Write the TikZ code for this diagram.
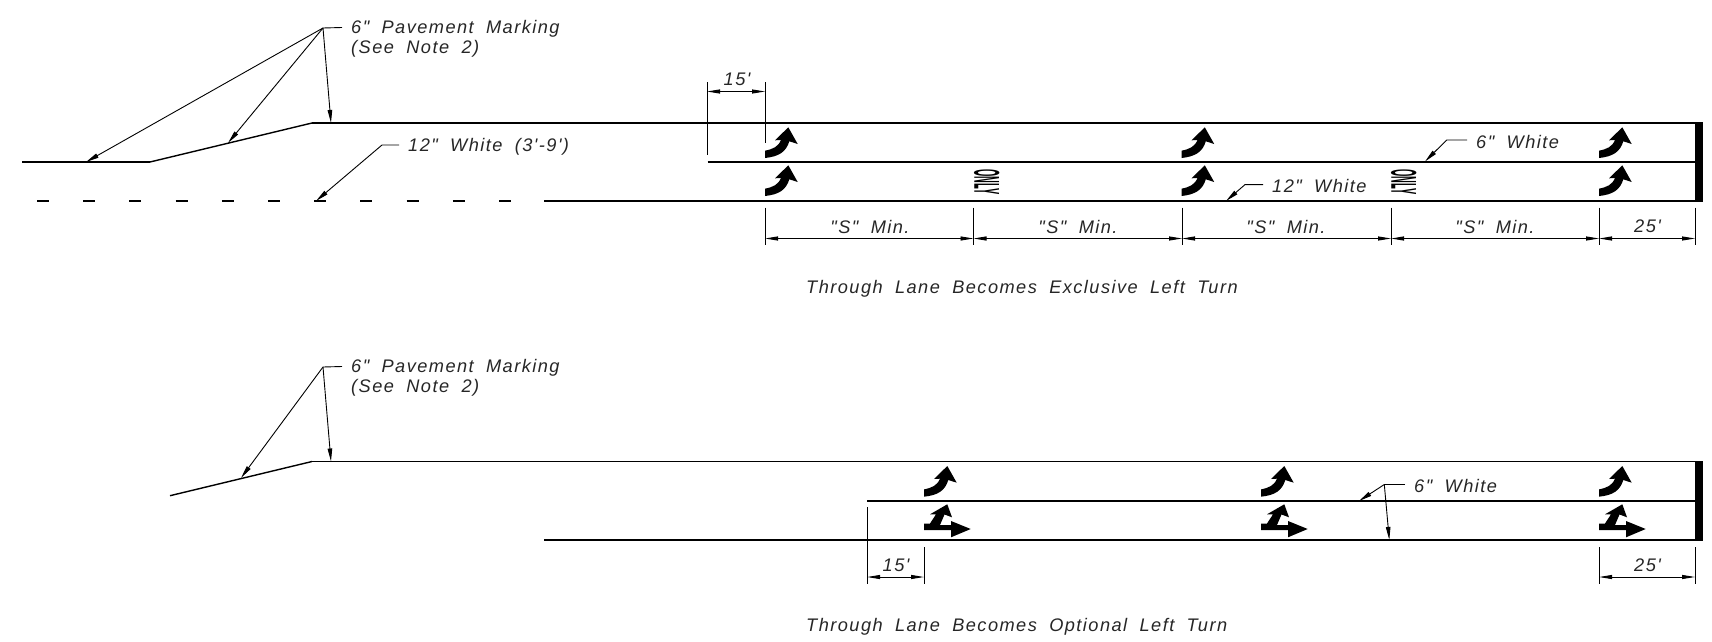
\documentclass[tikz,border=0pt]{standalone}
\usepackage{fontspec}
\usetikzlibrary{arrows.meta}
\newfontfamily\lab[LetterSpace=8,WordSpace=1.9]{Liberation Sans}
\newfontfamily\onlyfont{Liberation Sans}
\tikzset{
 x=1pt,y=-1pt,
 road/.style={line width=1.7pt,black},
 slope/.style={line width=1.4pt,black},
 thin line/.style={line width=0.9pt,black},
 leader/.style={thin line,-{Triangle[length=13pt,width=4.5pt]}},
 dimen/.style={thin line,{Triangle[length=13pt,width=4pt]}-{Triangle[length=13pt,width=4pt]}},
 txt/.style={font=\lab\itshape\fontsize{18.2}{18.2}\selectfont,text=black!85,inner sep=0pt,anchor=west,yshift=-1.5pt},
 ctxt/.style={txt,anchor=center},
 stublab/.style={txt,inner xsep=9pt},
 onlytxt/.style={inner sep=0pt,rotate=-90},
 pics/turn/.style={code={
   \fill (0,0) -- (0,-7.3) .. controls (8,-9) and (13,-11) .. (16,-18) -- (10,-17.7) -- (23.3,-30.7) -- (32.7,-14) -- (24.3,-16.7)
     .. controls (21,-6) and (14,-1.5) .. (0,0) -- cycle;}},
 pics/turnthru/.style={code={
   \fill (0,0) -- (27,0) -- (27,7.3) -- (46.7,-1) -- (27,-9) -- (27,-5) -- (16,-5) -- (20.5,-15.5) -- (28,-12.7) -- (23.3,-25.7) -- (6,-15.7) -- (12,-15.7) -- (6,-6.5) -- (0,-6.5) -- cycle;}},
}
\newcommand{\onlymark}{{\onlyfont\bfseries\fontsize{36}{36}\selectfont\scalebox{.26}[1]{ONLY}}}
\begin{document}
\begin{tikzpicture}
\useasboundingbox (0,0) rectangle (1712,642);
% ---------- top diagram
\coordinate (t0) at (22,162); \coordinate (t1) at (150,162); \coordinate (t2) at (312,123); \coordinate (tE) at (1695,123);
\coordinate (tm0) at (707.5,162); \coordinate (tmE) at (1695,162);
\coordinate (tb0) at (544,201); \coordinate (tbE) at (1695,201);
\draw[road] (t0) -- (t1);
\draw[slope] (t1) -- (t2);
\draw[road] (t2) -- (tE);
\draw[road] (tm0) -- (tmE);
\draw[road] (tb0) -- (tbE);
\foreach \i in {0,...,10} \draw[road] ({37+46.2*\i},201) -- ({49+46.2*\i},201);
\fill (1695,122) rectangle (1702.7,202);
\foreach \x/\n in {765/a,1181.5/b,1599/c}{
  \pic at (\x,158) {turn};
  \pic at (\x,196) {turn};
}
\node[onlytxt] (only1) at (986.7,182) {\onlymark};
\node[onlytxt] (only2) at (1403.7,182) {\onlymark};
% leaders
\coordinate (hub1) at (323,28);
\node[stublab] (pm1) at (342,27.5) {6" Pavement Marking};
\node[txt] (pm1b) at (351,47.5) {(See Note 2)};
\draw[thin line] (hub1) -- ([yshift=1.5pt]pm1.west);
\coordinate (p1) at (86,162); \coordinate (p2) at (228,143); \coordinate (p3) at (331,123);
\draw[leader] (hub1) -- (p1);
\draw[leader] (hub1) -- (p2);
\draw[leader] (hub1) -- (p3);
\node[stublab] (w12d) at (399,145) {12" White (3'-9')};
\coordinate (w12de) at (382,145); \coordinate (w12da) at (316,201);
\draw[leader] ([yshift=1.5pt]w12d.west) -- (w12de) -- (w12da);
\node[stublab] (w12) at (1263,184.6) {12" White};
\coordinate (w12e) at (1245,184.6); \coordinate (w12a) at (1226,201);
\draw[leader] ([yshift=1.5pt]w12.west) -- (w12e) -- (w12a);
\node[stublab] (w6) at (1467,140) {6" White};
\coordinate (w6e) at (1446.7,140); \coordinate (w6a) at (1425,161.5);
\draw[leader] ([yshift=1.5pt]w6.west) -- (w6e) -- (w6a);
% dimensions
\foreach \n/\x in {A/765,B/973.5,C/1182,D/1391,E/1599,F/1695}{
  \coordinate (\n1) at (\x,207.5); \coordinate (\n2) at (\x,245);
  \coordinate (\n) at (\x,238.5);
  \draw[thin line] (\n1) -- (\n2);
}
\foreach \a/\b in {A/B,B/C,C/D,D/E,E/F} \draw[dimen] (\a) -- (\b);
\node[ctxt] (s1) at (870,225) {"S" Min.};
\node[ctxt] (s2) at (1078,225) {"S" Min.};
\node[ctxt] (s3) at (1286,225) {"S" Min.};
\node[ctxt] (s4) at (1495,225) {"S" Min.};
\node[ctxt] (d25a) at (1647.5,225) {25'};
\coordinate (g1) at (707,82); \coordinate (g2) at (707,155);
\coordinate (g3) at (765,82); \coordinate (g4) at (765,143);
\draw[thin line] (g1) -- (g2);
\draw[thin line] (g3) -- (g4);
\coordinate (g5) at (707,91.5); \coordinate (g6) at (765,91.5);
\draw[dimen] (g5) -- (g6);
\node[ctxt] (d15a) at (737,77.5) {15'};
\node[txt] (title1) at (806,287) {Through Lane Becomes Exclusive Left Turn};
% ---------- bottom diagram
\coordinate (u0) at (170,495.7); \coordinate (u1) at (312,461.5); \coordinate (uE) at (1695,461.5);
\coordinate (um0) at (867,501); \coordinate (umE) at (1695,501);
\coordinate (ub0) at (544,540); \coordinate (ubE) at (1695,540);
\draw[slope] (u0) -- (u1);
\draw[road] (u1) -- (uE);
\draw[road] (um0) -- (umE);
\draw[road] (ub0) -- (ubE);
\fill (1695,460.5) rectangle (1702.7,540.8);
\foreach \x in {924,1261,1599}{
  \pic at (\x,496.7) {turn};
  \pic at (\x,530) {turnthru};
}
\coordinate (hub2) at (323,367);
\node[stublab] (pm2) at (342,366.5) {6" Pavement Marking};
\node[txt] (pm2b) at (351,386.5) {(See Note 2)};
\draw[thin line] (hub2) -- ([yshift=1.5pt]pm2.west);
\coordinate (q1) at (241,478); \coordinate (q2) at (331,461.5);
\draw[leader] (hub2) -- (q1);
\draw[leader] (hub2) -- (q2);
\node[stublab] (w6b) at (1405,484.5) {6" White};
\coordinate (w6be) at (1384.3,484.5); \coordinate (w6ba) at (1359,501); \coordinate (w6bb) at (1389.3,540);
\draw[thin line] ([yshift=1.5pt]w6b.west) -- (w6be);
\draw[leader] (w6be) -- (w6ba);
\draw[leader] (w6be) -- (w6bb);
\coordinate (h1) at (867,507); \coordinate (h2) at (867,584);
\coordinate (h3) at (924,547); \coordinate (h4) at (924,584);
\coordinate (h5) at (1599,547); \coordinate (h6) at (1599,584);
\coordinate (h7) at (1695,547); \coordinate (h8) at (1695,584);
\draw[thin line] (h1) -- (h2);
\draw[thin line] (h3) -- (h4);
\draw[thin line] (h5) -- (h6);
\draw[thin line] (h7) -- (h8);
\coordinate (i1) at (867,577); \coordinate (i2) at (924,577);
\coordinate (i3) at (1599,577); \coordinate (i4) at (1695,577);
\draw[dimen] (i1) -- (i2);
\draw[dimen] (i3) -- (i4);
\node[ctxt] (d15b) at (896,563.5) {15'};
\node[ctxt] (d25b) at (1647.5,563.5) {25'};
\node[txt] (title2) at (806,625.5) {Through Lane Becomes Optional Left Turn};
\end{tikzpicture}
\end{document}
